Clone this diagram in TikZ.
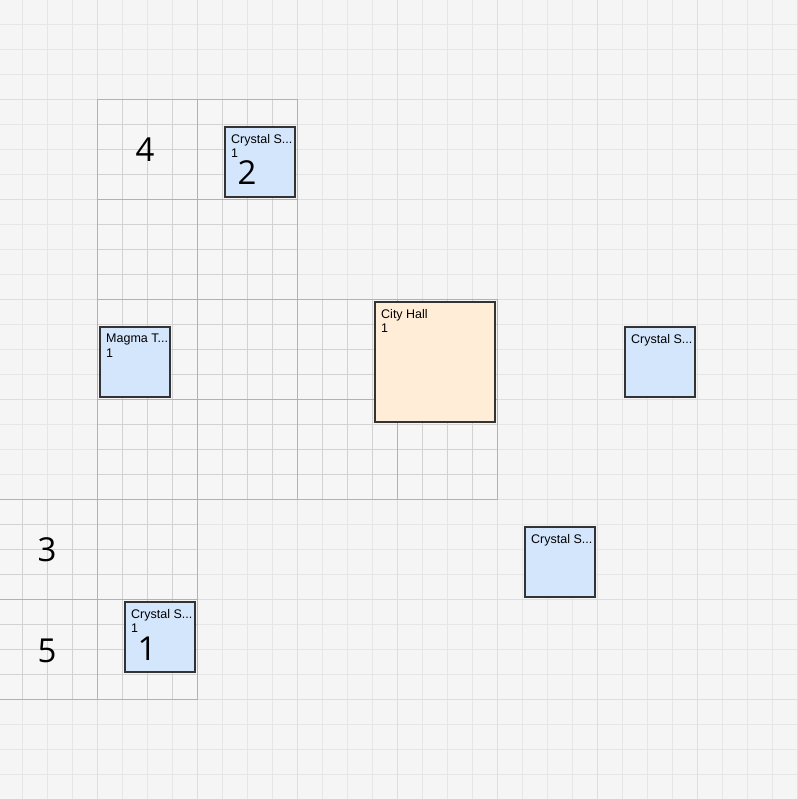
\documentclass[tikz,border=0pt]{standalone}
\usepackage{fontspec}
\setmainfont{Liberation Sans}
\newfontfamily\bigfont{Open Sans}
\definecolor{bg}{HTML}{F5F5F5}
\definecolor{bgminor}{HTML}{E6E6E6}
\definecolor{bgmajor}{HTML}{DEDEDE}
\definecolor{blkfill}{HTML}{F6F6F6}
\definecolor{blkminor}{HTML}{D2D2D2}
\definecolor{blkmajor}{HTML}{B2B2B2}
\definecolor{bluefill}{HTML}{D4E6FC}
\definecolor{orangefill}{HTML}{FFEDD7}
\definecolor{boxline}{HTML}{333333}
\tikzset{
  bgminorline/.style={draw=bgminor, line width=1pt},
  bgmajorline/.style={draw=bgmajor, line width=1.3pt},
  blkminorline/.style={draw=blkminor, line width=1pt},
  blkmajorline/.style={draw=blkmajor, line width=1.3pt},
  tile/.style={draw=boxline, line width=1.2pt, inner sep=0pt, outer sep=0pt, minimum size=70pt, anchor=north west},
  bluetile/.style={tile, fill=bluefill},
  halltile/.style={tile, fill=orangefill, minimum size=120pt},
  lbl/.style={font=\fontsize{12.5}{14.5}\selectfont, align=left, inner sep=0pt, anchor=north west, text=black},
  bignum/.style={font=\bigfont\fontsize{33}{33}\selectfont, inner sep=0pt, anchor=center, text=black}
}
\begin{document}
\begin{tikzpicture}[x=1pt,y=-1pt]
\useasboundingbox (0,0) rectangle (797,799);
\fill[bg] (0,0) rectangle (797,799);
% background grid
\foreach \i in {0,...,31} {
  \draw[bgminorline] ({22.5+25*\i},0) -- ({22.5+25*\i},799);
  \draw[bgminorline] (0,{24.5+25*\i}) -- (797,{24.5+25*\i});
}
\foreach \i in {0,...,7} {
  \draw[bgmajorline] ({97.5+100*\i},0) -- ({97.5+100*\i},799);
  \draw[bgmajorline] (0,{99.5+100*\i}) -- (797,{99.5+100*\i});
}
% built blocks: (x0,y0)
\def\blocks{97.5/99.5, 197.5/99.5, 97.5/199.5, 197.5/199.5,
  97.5/299.5, 197.5/299.5, 297.5/299.5, 397.5/299.5,
  97.5/399.5, 197.5/399.5, 297.5/399.5, 397.5/399.5,
  -2.5/499.5, 97.5/499.5, -2.5/599.5, 97.5/599.5}
\foreach \bx/\by in \blocks {
  \fill[blkfill] (\bx,\by) rectangle ++(100,100);
}
\foreach \bx/\by in \blocks {
  \foreach \k in {25,50,75} {
    \draw[blkminorline] ({\bx+\k},\by) -- ({\bx+\k},{\by+100});
    \draw[blkminorline] (\bx,{\by+\k}) -- ({\bx+100},{\by+\k});
  }
}
\foreach \bx/\by in \blocks {
  \draw[blkmajorline] (\bx,\by) rectangle ++(100,100);
}
% tiles
\node[bluetile] (c2) at (225,127) {};
\node[bluetile] (magma) at (100,327) {};
\node[halltile] (hall) at (375,302) {};
\node[bluetile] (cr) at (625,327) {};
\node[bluetile] (cm) at (525,527) {};
\node[bluetile] (c1) at (125,602) {};
% tile labels
\node[lbl] (c2t) at ([xshift=6pt,yshift=-7pt]c2.north west) {Crystal S...\\1};
\node[lbl] (magmat) at ([xshift=6pt,yshift=-7pt]magma.north west) {Magma T...\\1};
\node[lbl] (hallt) at ([xshift=6pt,yshift=-7pt]hall.north west) {City Hall\\1};
\node[lbl] (crt) at ([xshift=6pt,yshift=-7pt]cr.north west) {Crystal S...};
\node[lbl] (cmt) at ([xshift=6pt,yshift=-7pt]cm.north west) {Crystal S...};
\node[lbl] (c1t) at ([xshift=6pt,yshift=-7pt]c1.north west) {Crystal S...\\1};
% big numbers
\node[bignum] (n2) at (247,172.5) {2};
\node[bignum] (n4) at (145,150) {4};
\node[bignum] (n3) at (47,550) {3};
\node[bignum] (n5) at (47,651) {5};
\node[bignum] (n1) at (147,649) {1};
\end{tikzpicture}
\end{document}
